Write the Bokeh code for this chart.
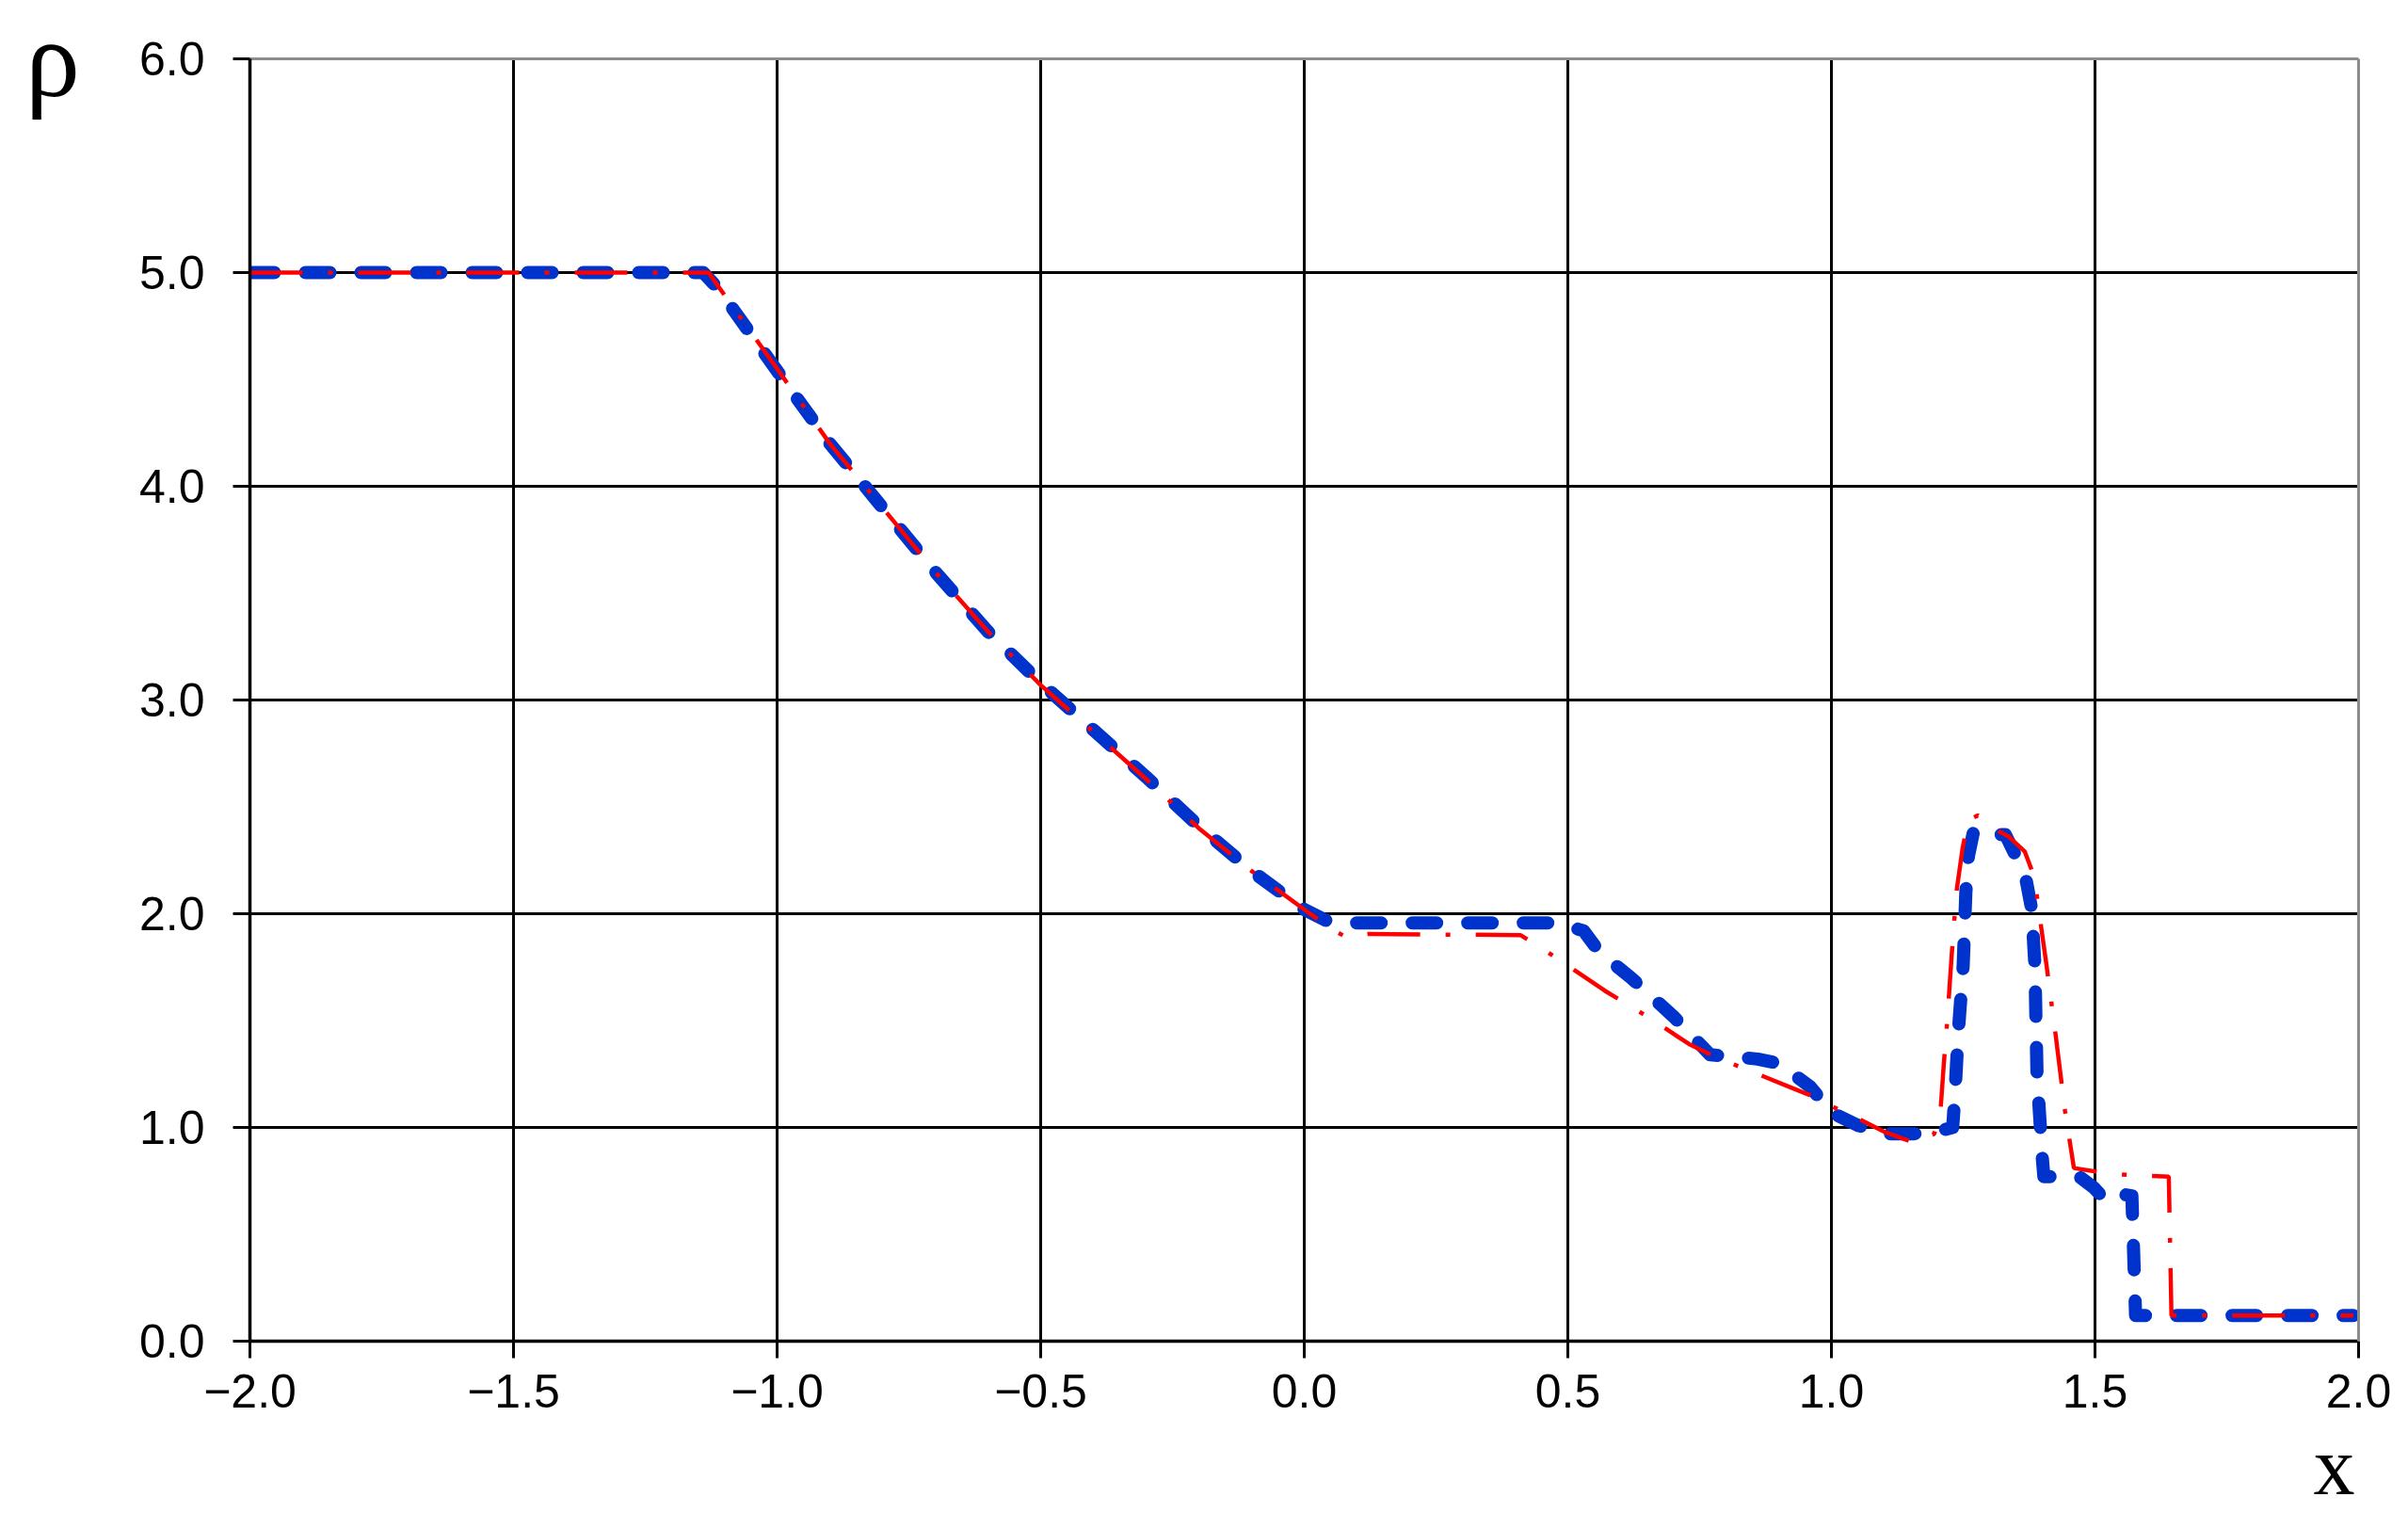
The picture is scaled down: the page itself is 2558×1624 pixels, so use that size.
from bokeh.plotting import figure
from bokeh.models import FixedTicker, LinearAxis, Range1d, Title
from bokeh.embed import file_html
from bokeh.resources import INLINE

# ticks and their labels
x_ticks = [-2.0, -1.5, -1.0, -0.5, 0.0, 0.5, 1.0, 1.5, 2.0]
x_tick_labels = ["\u22122.0", "\u22121.5", "\u22121.0", "\u22120.5", "0.0", "0.5", "1.0", "1.5", "2.0"]
y_ticks = [0, 1, 2, 3, 4, 5, 6]
y_tick_labels = ["0.0", "1.0", "2.0", "3.0", "4.0", "5.0", "6.0"]

# red dash-dot curve
red_x = [-2.0, -1.13, -1.11, -1.0, -0.9, -0.8, -0.7, -0.6, -0.5, -0.4, -0.3, -0.2, -0.1, 0.0,
         0.05, 0.08, 0.12, 0.41, 0.45, 0.48, 0.51, 0.57, 0.65, 0.73, 0.78, 0.83, 0.87, 0.92, 0.96,
         1.0, 1.06, 1.1, 1.155, 1.195, 1.207, 1.213, 1.22, 1.228, 1.237, 1.249, 1.26, 1.278,
         1.314, 1.337, 1.367, 1.385, 1.396, 1.408, 1.426, 1.443, 1.46, 1.51, 1.545, 1.64, 1.645, 1.99]
red_y = [5.0, 5.0, 4.93, 4.55, 4.2, 3.9, 3.6, 3.32, 3.07, 2.85, 2.63, 2.4, 2.2, 2.02,
         1.93, 1.89, 1.905, 1.90, 1.84, 1.79, 1.74, 1.64, 1.52, 1.39, 1.33, 1.28, 1.24, 1.19, 1.15,
         1.10, 1.03, 0.98, 0.93, 0.97, 1.08, 1.29, 1.51, 1.80, 2.10, 2.31, 2.44, 2.46,
         2.39, 2.36, 2.29, 2.17, 1.97, 1.76, 1.42, 1.08, 0.81, 0.79, 0.78, 0.77, 0.12, 0.12]

# blue dashed curve
blue_x = [-2.0, -1.14, -1.11, -1.0, -0.9, -0.8, -0.7, -0.6, -0.5, -0.4, -0.3, -0.2, -0.1, 0.0,
          0.04, 0.07, 0.48, 0.53, 0.56, 0.62, 0.70, 0.77, 0.82, 0.86, 0.90, 0.96, 1.0, 1.05,
          1.1, 1.155, 1.2, 1.23, 1.234, 1.24, 1.25, 1.255, 1.26, 1.27, 1.307, 1.33, 1.35, 1.37,
          1.38, 1.386, 1.39, 1.40, 1.403, 1.47, 1.497, 1.52, 1.545, 1.57, 1.577, 1.99]
blue_y = [5.0, 5.0, 4.92, 4.54, 4.2, 3.9, 3.6, 3.32, 3.08, 2.86, 2.64, 2.41, 2.2, 2.02,
          1.97, 1.957, 1.957, 1.92, 1.82, 1.70, 1.52, 1.34, 1.33, 1.32, 1.30, 1.19, 1.07, 1.01,
          0.97, 0.97, 0.98, 1.0, 1.14, 1.42, 1.76, 2.1, 2.27, 2.39, 2.37, 2.37, 2.27, 2.15,
          2.02, 1.76, 1.25, 0.86, 0.77, 0.77, 0.72, 0.66, 0.69, 0.68, 0.12, 0.12]

p = figure(width=2550, height=1614,
           x_range=Range1d(-2, 2), y_range=Range1d(0, 6),
           output_backend="svg", toolbar_location=None,
           min_border_left=265, min_border_right=45,
           min_border_top=62, min_border_bottom=187)
p.outline_line_color = None
p.background_fill_color = "white"
p.border_fill_color = "white"

# axes
p.xaxis.ticker = FixedTicker(ticks=x_ticks)
p.xaxis.major_label_overrides = dict(zip(x_ticks, x_tick_labels))
p.yaxis.ticker = FixedTicker(ticks=y_ticks)
p.yaxis.major_label_overrides = dict(zip(y_ticks, y_tick_labels))
for ax in (p.xaxis, p.yaxis):
    ax.axis_line_color = "black"
    ax.axis_line_width = 3.5
    ax.major_tick_line_color = "black"
    ax.major_tick_line_width = 3
    ax.major_tick_in = 0
    ax.minor_tick_line_color = None
    ax.major_label_text_font = "Liberation Sans"
    ax.major_label_text_font_size = "50px"
    ax.major_label_text_color = "black"
p.xaxis.major_tick_out = 18
p.xaxis.major_label_standoff = 17
p.yaxis.major_tick_out = 18
p.yaxis.major_label_standoff = 30

# axis names: rho at the top of the y axis, x under the right end of the x axis
p.yaxis.axis_label = "\u03c1"
p.yaxis.axis_label_text_font = "Liberation Serif"
p.yaxis.axis_label_text_font_style = "normal"
p.yaxis.axis_label_text_color = "black"
p.yaxis.axis_label_text_font_size = "116px"
p.yaxis.axis_label_orientation = "horizontal"
p.yaxis.axis_label_align = "end"
p.yaxis.axis_label_standoff = 60

p.add_layout(Title(text="x", align="right", offset=4, standoff=18,
                   text_font="Liberation Serif", text_font_style="normal",
                   text_font_size="88px", text_color="black"), "below")

# grey frame on top and right
for side in ("above", "right"):
    edge = LinearAxis(ticker=FixedTicker(ticks=[]), axis_line_color="#8c8c8c", axis_line_width=3,
                      major_tick_out=0, major_tick_in=0, minor_tick_out=0, minor_tick_in=0,
                      major_label_text_font_size="0px")
    p.add_layout(edge, side)

# grid
p.xgrid.ticker = FixedTicker(ticks=x_ticks[1:-1])
p.ygrid.ticker = FixedTicker(ticks=y_ticks[1:-1])
p.xgrid.grid_line_color = "black"
p.ygrid.grid_line_color = "black"
p.xgrid.grid_line_width = 3
p.ygrid.grid_line_width = 3

# curves
p.line(blue_x, blue_y, line_color="#0033cc", line_width=14, line_dash="26 33",
       line_cap="round", line_join="round")
p.line(red_x, red_y, line_color="#ff0000", line_width=4.5, line_dash="56 27 5 27")

open("out.html", "w").write(file_html(p, INLINE))
